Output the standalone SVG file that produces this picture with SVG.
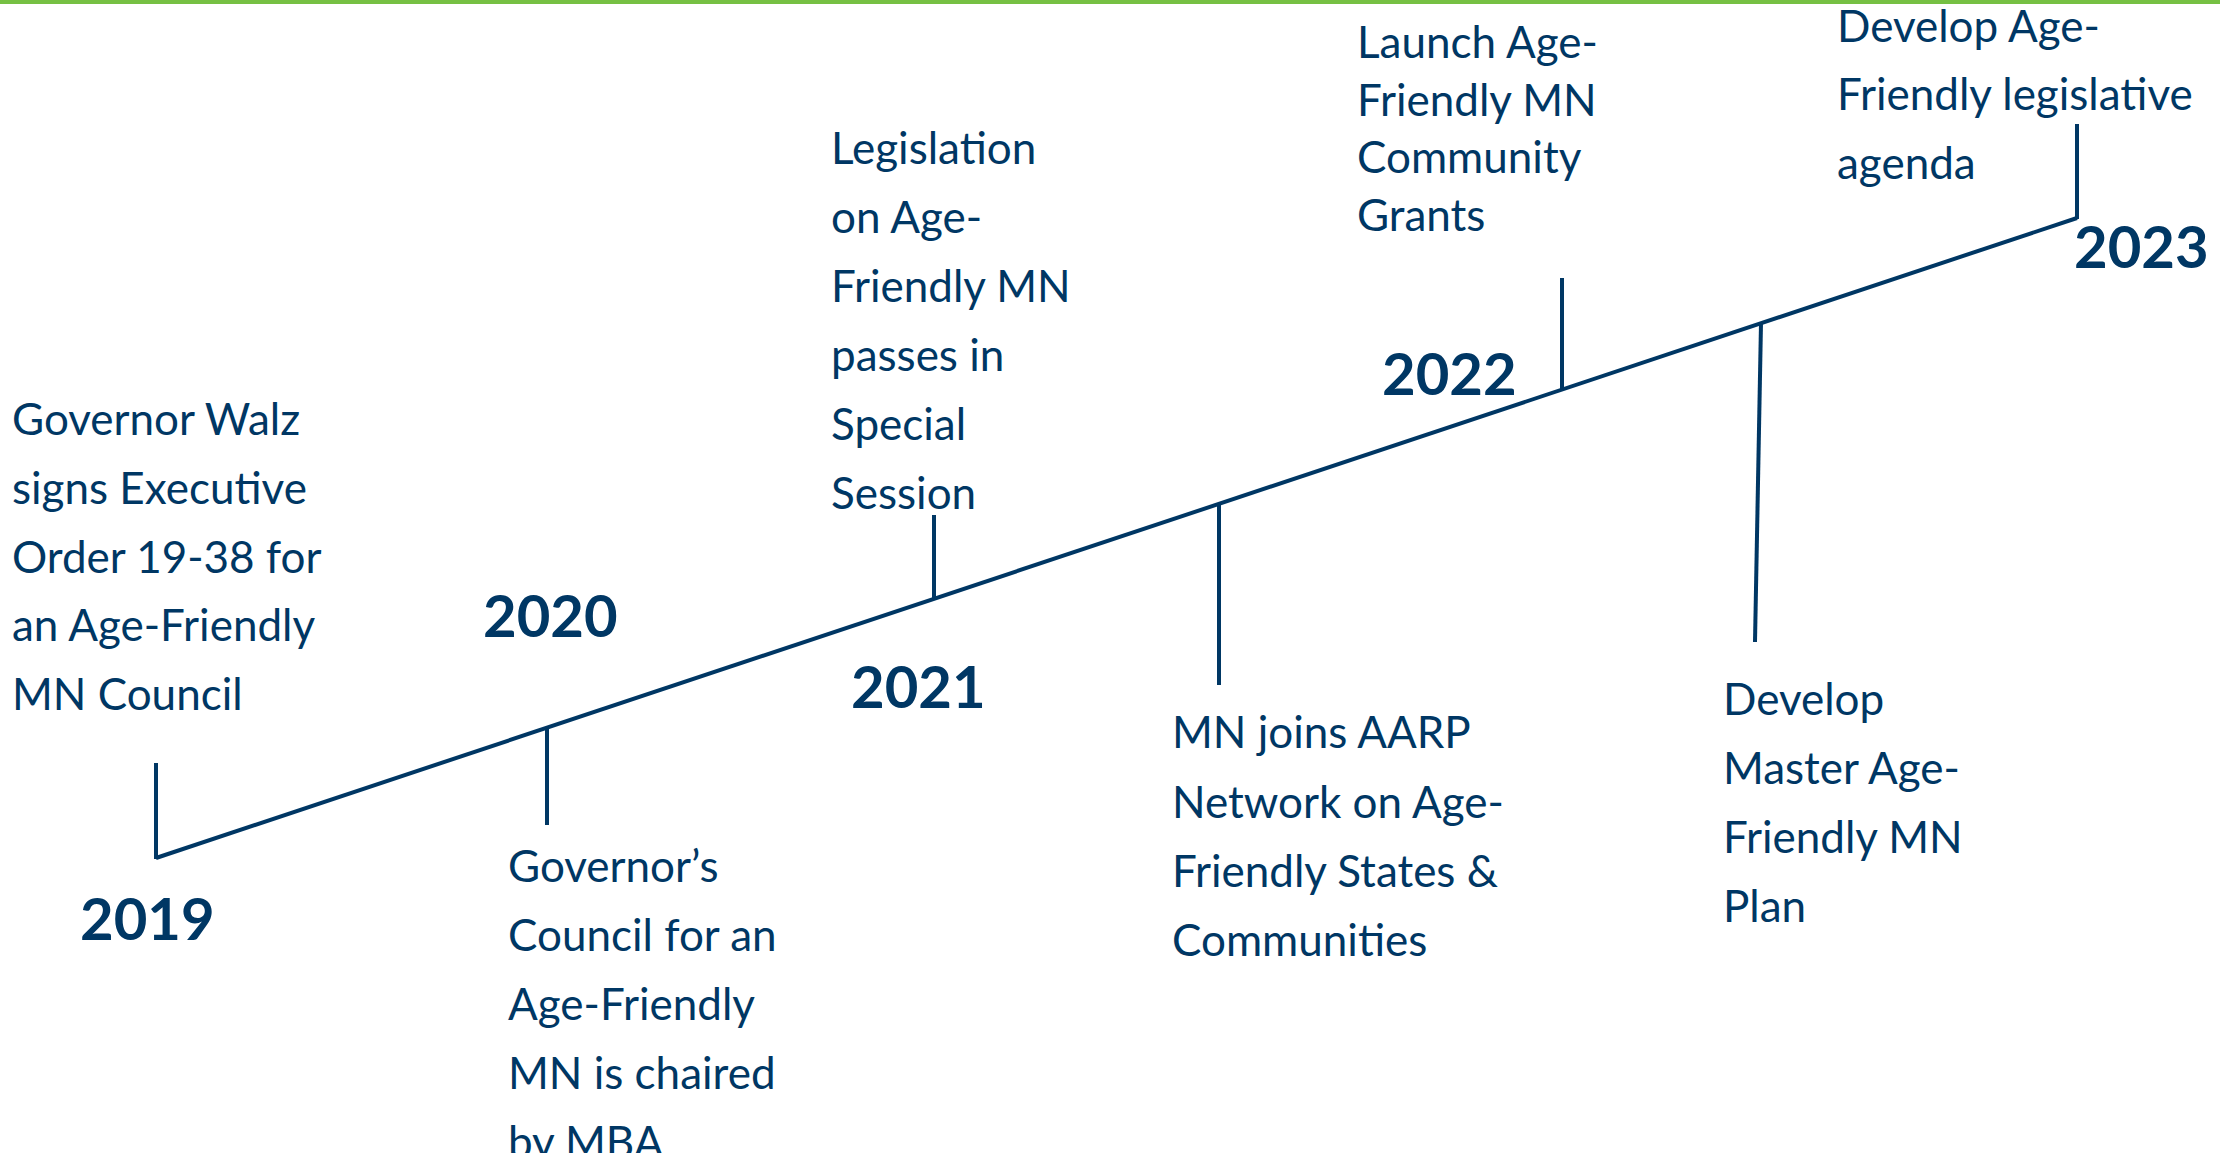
<svg xmlns="http://www.w3.org/2000/svg" width="2220" height="1153" viewBox="0 0 2220 1153">
<style>
.t{font-family:Lato,"Open Sans","Liberation Sans",sans-serif;font-size:44px;fill:#003764}
.y{font-family:Lato,"Open Sans","Liberation Sans",sans-serif;font-size:58px;font-weight:bold;fill:#003764}
.ln{stroke:#003764;stroke-width:4;fill:none;stroke-linecap:butt}
</style>
<rect x="0" y="0" width="2220" height="1153" fill="#ffffff"/>
<rect x="0" y="0" width="2220" height="4" fill="#76C043"/>
<g id="connectors">
<line class="ln" x1="156" y1="858" x2="2077" y2="218"/>
<line class="ln" x1="156" y1="763" x2="156" y2="859"/>
<line class="ln" x1="547" y1="728" x2="547" y2="825"/>
<line class="ln" x1="934" y1="515" x2="934" y2="599"/>
<line class="ln" x1="1219" y1="504" x2="1219" y2="685"/>
<line class="ln" x1="1562" y1="278" x2="1562" y2="389"/>
<line class="ln" x1="1761" y1="323" x2="1755" y2="642"/>
<line class="ln" x1="2077" y1="124" x2="2077" y2="219"/>
</g>
<g id="y2019"><text class="y" x="80" y="940">2019</text></g>
<g id="y2020"><text class="y" x="483" y="637">2020</text></g>
<g id="y2021"><text class="y" x="851" y="708">2021</text></g>
<g id="y2022"><text class="y" x="1382" y="395">2022</text></g>
<g id="y2023"><text class="y" x="2074" y="268">2023</text></g>
<g id="n-walz"><text class="t">
<tspan x="12" y="435">Governor Walz</tspan>
<tspan x="12" y="504">signs Executive</tspan>
<tspan x="12" y="572.5">Order 19-38 for</tspan>
<tspan x="12" y="641">an Age-Friendly</tspan>
<tspan x="12" y="710">MN Council</tspan>
</text></g>
<g id="n-council"><text class="t">
<tspan x="508" y="882">Governor’s</tspan>
<tspan x="508" y="951">Council for an</tspan>
<tspan x="508" y="1020">Age-Friendly</tspan>
<tspan x="508" y="1089">MN is chaired</tspan>
<tspan x="508" y="1158">by MBA</tspan>
</text></g>
<g id="n-legislation"><text class="t">
<tspan x="831" y="163.5">Legislation</tspan>
<tspan x="831" y="232.5">on Age-</tspan>
<tspan x="831" y="301.5">Friendly MN</tspan>
<tspan x="831" y="370.5">passes in</tspan>
<tspan x="831" y="439.5">Special</tspan>
<tspan x="831" y="508.5">Session</tspan>
</text></g>
<g id="n-aarp"><text class="t">
<tspan x="1172" y="748">MN joins AARP</tspan>
<tspan x="1172" y="817.5">Network on Age-</tspan>
<tspan x="1172" y="887">Friendly States &amp;</tspan>
<tspan x="1172" y="956">Communities</tspan>
</text></g>
<g id="n-grants"><text class="t">
<tspan x="1357" y="58">Launch Age-</tspan>
<tspan x="1357" y="116">Friendly MN</tspan>
<tspan x="1357" y="173">Community</tspan>
<tspan x="1357" y="231">Grants</tspan>
</text></g>
<g id="n-master"><text class="t">
<tspan x="1723" y="715">Develop</tspan>
<tspan x="1723" y="784">Master Age-</tspan>
<tspan x="1723" y="853">Friendly MN</tspan>
<tspan x="1723" y="922">Plan</tspan>
</text></g>
<g id="n-agenda"><text class="t">
<tspan x="1837" y="41.5">Develop Age-</tspan>
<tspan x="1837" y="110">Friendly legislative</tspan>
<tspan x="1837" y="178.5">agenda</tspan>
</text></g>
</svg>
